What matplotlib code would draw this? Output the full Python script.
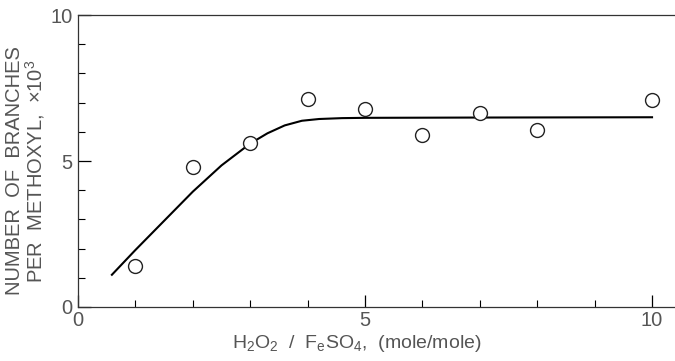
import matplotlib
matplotlib.use("Agg")
import matplotlib.pyplot as plt
from matplotlib.ticker import MultipleLocator

# 実測値 (H2O2 / FeSO4 ratio vs branches)
ratio = [1, 2, 3, 4, 5, 6, 7, 8, 10]
branches = [1.41, 4.79, 5.62, 7.14, 6.79, 5.90, 6.66, 6.07, 7.10]

# 描かれた曲線
curve_x = [0.59, 1.0, 1.5, 2.0, 2.5, 3.0, 3.3, 3.6, 3.9, 4.2, 4.6, 5.0, 7.0, 10.0]
curve_y = [1.10, 1.95, 2.95, 3.95, 4.85, 5.60, 5.95, 6.22, 6.38, 6.44, 6.47, 6.48, 6.49, 6.50]

plt.rcParams['font.family'] = ['Liberation Sans', 'DejaVu Sans']
plt.rcParams['mathtext.fontset'] = 'custom'
plt.rcParams['mathtext.rm'] = 'Liberation Sans'
plt.rcParams['mathtext.it'] = 'Liberation Sans'

txt_color = '#555555'

fig = plt.figure(figsize=(6.75, 3.61), dpi=100)
ax = fig.add_axes([0.1156, 0.150, 0.8844, 0.808])

ax.plot(curve_x, curve_y, color='black', lw=1.5)
ax.plot(ratio, branches, 'o', mfc='white', mec='#222222', mew=1.0, ms=10)

ax.set_xlim(0, 10.4)
ax.set_ylim(0, 10)

ax.xaxis.set_major_locator(MultipleLocator(5))
ax.xaxis.set_minor_locator(MultipleLocator(1))
ax.yaxis.set_major_locator(MultipleLocator(5))
ax.yaxis.set_minor_locator(MultipleLocator(1))
ax.tick_params(which='major', direction='in', length=9, width=0.9, labelsize=14.5,
               labelcolor=txt_color)
ax.tick_params(which='minor', direction='in', length=5, width=0.8)
ax.tick_params(axis='y', which='both', left=True, right=False, pad=4)
ax.tick_params(axis='x', which='both', top=False, pad=3)

ax.spines['right'].set_visible(False)
for s in ['left', 'bottom', 'top']:
    ax.spines[s].set_linewidth(0.9)
    ax.spines[s].set_color('#333333')

ax.set_xlabel(r'H$_2$O$_2$  /  F$_e$SO$_4$,  (mole/mole)', fontsize=14,
              color=txt_color)
ax.xaxis.set_label_coords(0.467, -0.088)
ax.set_ylabel('NUMBER  OF  BRANCHES\nPER  METHOXYL,  $\\times$10$^3$', fontsize=14.5,
              color=txt_color, linespacing=0.95)
ax.yaxis.set_label_coords(-0.052, 0.466)

fig.savefig('out.png', dpi=100)
